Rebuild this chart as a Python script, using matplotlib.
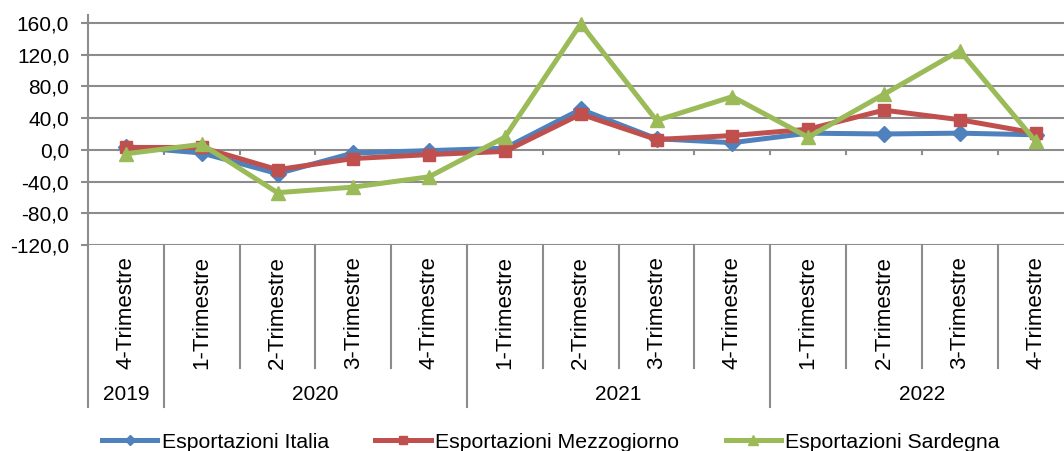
import numpy as np
import matplotlib
matplotlib.use('Agg')
import matplotlib.pyplot as plt
import matplotlib.transforms as mtransforms

plt.rcParams['font.family'] = ['Liberation Sans', 'DejaVu Sans']

# dati
trimestri = ['4-Trimestre', '1-Trimestre', '2-Trimestre', '3-Trimestre', '4-Trimestre',
             '1-Trimestre', '2-Trimestre', '3-Trimestre', '4-Trimestre',
             '1-Trimestre', '2-Trimestre', '3-Trimestre', '4-Trimestre']
anni = ['2019', '2020', '2021', '2022']
anni_inizio = [0, 1, 5, 9]
anni_fine = [0, 4, 8, 12]

italia = [4, -4, -30, -4, -1, 2, 51, 14, 9, 21, 20, 21, 19]
mezzogiorno = [3, 3, -25, -11, -6, -2, 45, 13, 18, 26, 50, 38, 21]
sardegna = [-5, 7, -54, -47, -34, 16, 159, 37, 67, 16, 70, 125, 11]

serie = [('Esportazioni Italia', italia, '#4F81BD', 'D', 8),
         ('Esportazioni Mezzogiorno', mezzogiorno, '#C0504D', 's', 8),
         ('Esportazioni Sardegna', sardegna, '#9BBB59', '^', 10)]

W, H = 1064, 451
fig = plt.figure(figsize=(W / 100, H / 100), dpi=100)
top_px, bot_px, left_px = 15, 245, 88
cat_w = 75.8
ax = fig.add_axes([left_px / W, 1 - bot_px / H, 13 * cat_w / W, (bot_px - top_px) / H])

x = np.arange(len(trimestri))
for nome, valori, col, mk, ms in serie:
    ax.plot(x, valori, color=col, lw=3.6, marker=mk, ms=ms, mec=col, mfc=col, label=nome,
            clip_on=False, zorder=3)

ax.set_xlim(-0.5, 12.5)
ax.set_ylim(-120, 170)
ax.set_yticks(np.arange(-120, 161, 40))
ax.set_yticklabels([f'{v:.1f}'.replace('.', ',') for v in np.arange(-120, 161, 40)], fontsize=15)
ax.yaxis.grid(True, color='#8c8c8c', lw=1.5)
ax.set_axisbelow(True)
ax.tick_params(axis='y', length=5, color='#8c8c8c', width=1.5, pad=8.5)
ax.set_xticks([])
for s in ['top', 'right', 'bottom']:
    ax.spines[s].set_visible(False)
ax.spines['left'].set_color('#8c8c8c')
ax.spines['left'].set_linewidth(1.5)

# tacche sull'asse dello zero
for b in np.arange(0.5, 12.5, 1):
    ax.plot([b, b], [0, -5], color='#8c8c8c', lw=1.5, zorder=1)

# etichette di categoria a due livelli
tr = mtransforms.blended_transform_factory(ax.transData, ax.transAxes)
h = bot_px - top_px
y_cat = (bot_px - 368) / h
y_anno = (bot_px - 407) / h
for i, t in enumerate(trimestri):
    ax.text(i, (bot_px - 256) / h, t, rotation=90, ha='center', va='top', fontsize=16,
            transform=tr)
for b in np.arange(-0.5, 13, 1):
    y_end = y_anno if (b + 0.5) in anni_inizio or b == -0.5 else y_cat
    ax.plot([b, b], [0, y_end], color='#8c8c8c', lw=1.5, transform=tr, clip_on=False)
for a, i0, i1 in zip(anni, anni_inizio, anni_fine):
    ax.text((i0 + i1) / 2, (bot_px - 395) / h, a, ha='center', va='center', fontsize=15,
            transform=tr)

fig.legend(loc='center left', bbox_to_anchor=(102 / W, 1 - 442 / H), ncol=3, frameon=False,
           fontsize=15.3, handlelength=2.6, handletextpad=0.2, columnspacing=2.2,
           markerscale=0.7, borderpad=0, borderaxespad=0)

fig.savefig('out.png', dpi=100)
